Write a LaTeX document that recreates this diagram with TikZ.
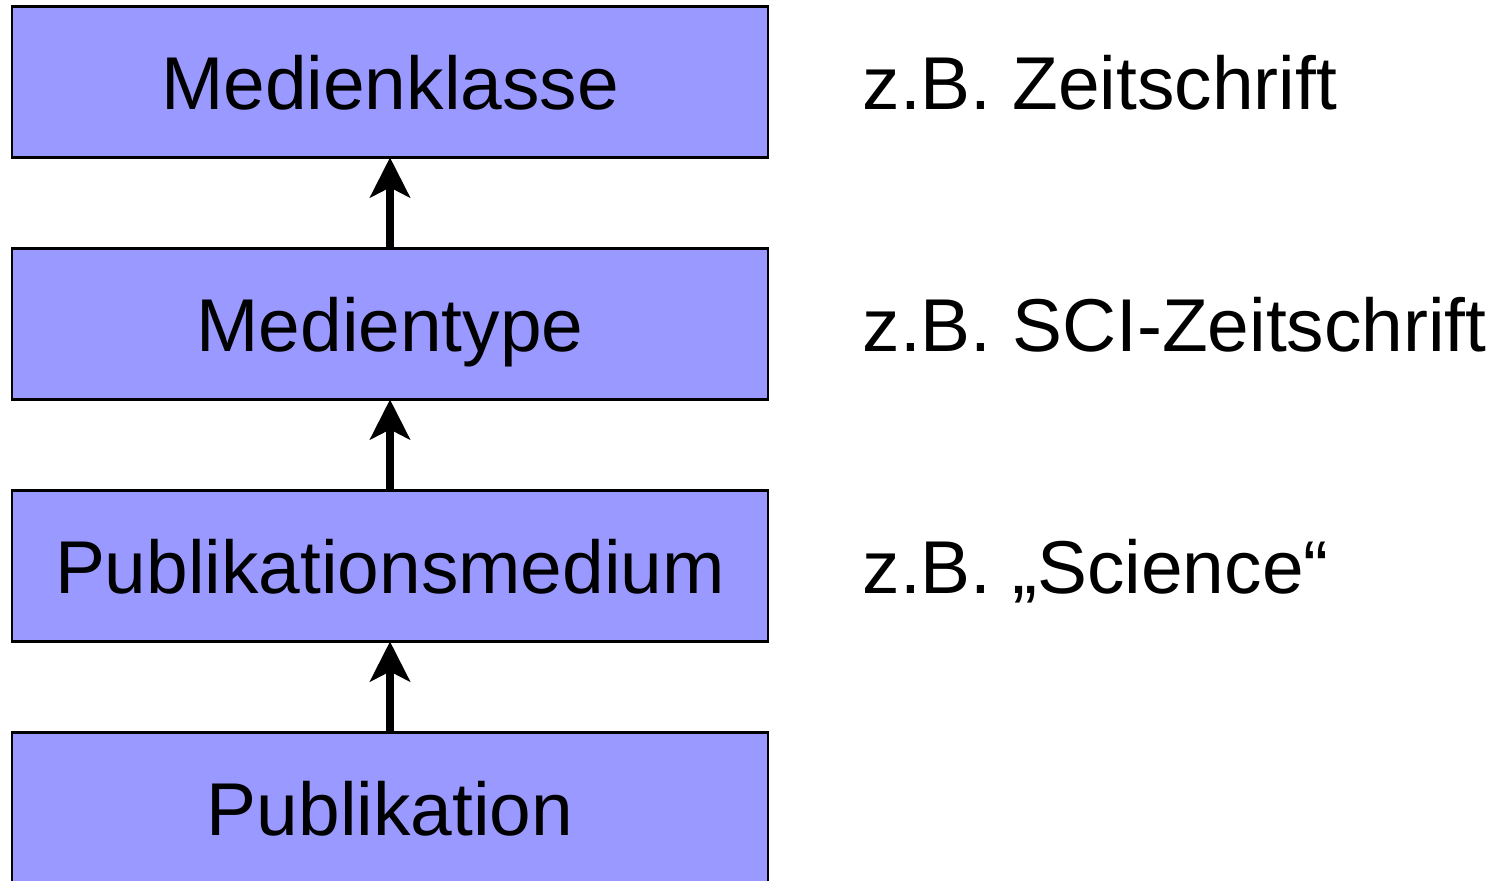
\documentclass[tikz,border=0pt]{standalone}
\usepackage{fontspec}
\setmainfont{Liberation Sans}
\usepackage{tikz}
\usetikzlibrary{positioning,arrows.meta}

\definecolor{boxblue}{HTML}{9999FF}

\begin{document}
\begin{tikzpicture}[node distance=0.91cm,
  every node/.style={font=\fontsize{21.3}{25}\selectfont},
  box/.style={draw, fill=boxblue, line width=0.6pt, minimum width=7.56cm, minimum height=1.51cm,
    text height=0.7cm, text depth=0.15cm, inner sep=0pt, outer sep=0pt},
  example/.style={anchor=base west, inner sep=0pt},
  up/.style={line width=2pt, -{Stealth[length=0.4cm, width=0.4cm, inset=0.1cm]}}]

  \useasboundingbox (0,0) rectangle (14.93,8.80);

  \node[box] at (3.90,7.98) (mk) {Medienklasse};
  \node[box, below=of mk] (mt) {Medientype};
  \node[box, below=of mt] (pm) {Publikationsmedium};
  \node[box, below=of pm] (pub) {Publikation};

  \node[example] at (8.62,0 |- mk.base) (bsp1) {z.B. Zeitschrift};
  \node[example] at (8.62,0 |- mt.base) (bsp2) {z.B. SCI-Zeitschrift};
  \node[example] at (8.62,0 |- pm.base) (bsp3) {z.B. „Science“};

  \draw[up] (mt) -- (mk);
  \draw[up] (pm) -- (mt);
  \draw[up] (pub) -- (pm);

\end{tikzpicture}
\end{document}
